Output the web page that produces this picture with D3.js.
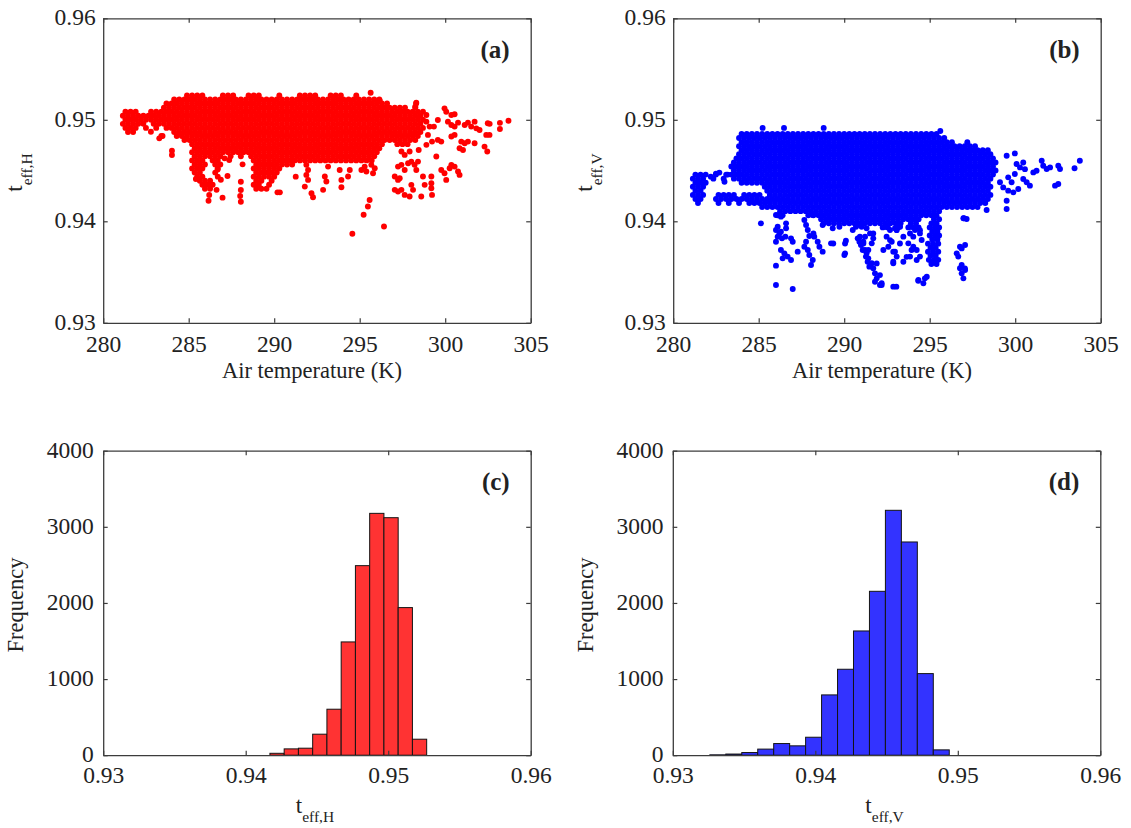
<!DOCTYPE html>
<html><head><meta charset="utf-8">
<script src="https://cdn.jsdelivr.net/npm/d3@7"></script>
<style>body{margin:0;background:#fff}</style>
</head><body>
<svg id="chart" width="1131" height="828"></svg>
<script>
// ---------- tick labels ----------
const tempTicks = [280, 285, 290, 295, 300, 305];
const teffTicks = [0.93, 0.94, 0.95, 0.96];
const freqTicks = [0, 1000, 2000, 3000, 4000];

// ---------- histogram data ----------
const binEdgesH = [0.9417, 0.9427, 0.9437, 0.9447, 0.9457, 0.9467, 0.9477, 0.9487, 0.9497, 0.9507, 0.9517, 0.9527];
const countsH = [25, 83, 92, 276, 604, 1488, 2490, 3177, 3120, 1939, 210];
const binEdgesV = [0.9326, 0.93372, 0.93484, 0.93596, 0.93708, 0.9382, 0.93932, 0.94044, 0.94156, 0.94268, 0.9438, 0.94492, 0.94604, 0.94716, 0.94828, 0.9494];
const countsV = [5, 15, 35, 80, 153, 123, 236, 792, 1129, 1632, 2153, 3217, 2801, 1072, 70];

// ---------- scatter (a): dense part read row by row: [t_eff,H, T1, T2, ...] ----------
const denseRowsH = [
[0.9524, 284.9,285.2,285.5,285.8,287.0,287.3,287.6,288.5,288.8,289.1,290.3,291.5,291.8,292.1,292.4,293.3,293.6,293.9,294.8],
[0.9520, 284.15,284.45,284.75,285.05,285.35,285.65,285.95,286.25,286.55,286.85,287.15,287.45,287.75,288.05,288.35,288.65,288.95,289.25,289.55,289.85,290.15,290.45,290.75,291.05,291.35,291.65,291.95,292.25,292.55,292.85,293.15,293.45,293.75,294.05,294.35,294.65,294.95,295.25,295.55,295.85,296.15],
[0.9516, 283.7,284.0,284.3,284.6,284.9,285.2,285.5,285.8,286.1,286.4,286.7,287.0,287.3,287.6,287.9,288.2,288.5,288.8,289.1,289.4,289.7,290.0,290.3,290.6,290.9,291.2,291.5,291.8,292.1,292.4,292.7,293.0,293.3,293.6,293.9,294.2,294.5,294.8,295.1,295.4,295.7,296.0,296.3,296.6,298.3],
[0.9512, 283.55,283.85,284.15,284.45,284.75,285.05,285.35,285.65,285.95,286.25,286.55,286.85,287.15,287.45,287.75,288.05,288.35,288.65,288.95,289.25,289.55,289.85,290.15,290.45,290.75,291.05,291.35,291.65,291.95,292.25,292.55,292.85,293.15,293.45,293.75,294.05,294.35,294.65,294.95,295.25,295.55,295.85,296.15,296.45,296.75,297.05,297.35,297.65,298.25],
[0.9508, 281.3,281.6,281.9,282.8,283.1,283.4,283.7,284.0,284.3,284.6,284.9,285.2,285.5,285.8,286.1,286.4,286.7,287.0,287.3,287.6,287.9,288.2,288.5,288.8,289.1,289.4,289.7,290.0,290.3,290.6,290.9,291.2,291.5,291.8,292.1,292.4,292.7,293.0,293.3,293.6,293.9,294.2,294.5,294.8,295.1,295.4,295.7,296.0,296.3,296.6,296.9,297.2,297.5,297.8,298.1,298.4],
[0.9504, 281.15,281.45,281.75,282.05,282.35,282.65,282.95,283.25,283.55,283.85,284.15,284.45,284.75,285.05,285.35,285.65,285.95,286.25,286.55,286.85,287.15,287.45,287.75,288.05,288.35,288.65,288.95,289.25,289.55,289.85,290.15,290.45,290.75,291.05,291.35,291.65,291.95,292.25,292.55,292.85,293.15,293.45,293.75,294.05,294.35,294.65,294.95,295.25,295.55,295.85,296.15,296.45,296.75,297.05,297.35,297.65,297.95,298.25,298.55],
[0.9500, 281.3,281.6,281.9,282.2,282.5,282.8,283.1,283.4,283.7,284.0,284.3,284.6,284.9,285.2,285.5,285.8,286.1,286.4,286.7,287.0,287.3,287.6,287.9,288.2,288.5,288.8,289.1,289.4,289.7,290.0,290.3,290.6,290.9,291.2,291.5,291.8,292.1,292.4,292.7,293.0,293.3,293.6,293.9,294.2,294.5,294.8,295.1,295.4,295.7,296.0,296.3,296.6,296.9,297.2,297.5,297.8,298.1,298.4,298.7],
[0.9496, 281.15,281.45,281.75,282.05,282.35,282.95,283.25,283.55,283.85,284.15,284.45,284.75,285.05,285.35,285.65,285.95,286.25,286.55,286.85,287.15,287.45,287.75,288.05,288.35,288.65,288.95,289.25,289.55,289.85,290.15,290.45,290.75,291.05,291.35,291.65,291.95,292.25,292.55,292.85,293.15,293.45,293.75,294.05,294.35,294.65,294.95,295.25,295.55,295.85,296.15,296.45,296.75,297.05,297.35,297.65,297.95,298.25,298.55],
[0.9492, 281.3,281.6,281.9,282.5,283.1,283.7,284.0,284.3,284.6,284.9,285.2,285.5,285.8,286.1,286.4,286.7,287.0,287.3,287.6,287.9,288.2,288.5,288.8,289.1,289.4,289.7,290.0,290.3,290.6,290.9,291.2,291.5,291.8,292.1,292.4,292.7,293.0,293.3,293.6,293.9,294.2,294.5,294.8,295.1,295.4,295.7,296.0,296.3,296.6,296.9,297.2,297.5,297.8,298.1,298.4,298.7],
[0.9488, 281.45,281.75,284.15,284.45,284.75,285.05,285.35,285.65,285.95,286.25,286.55,286.85,287.15,287.45,287.75,288.05,288.35,288.65,288.95,289.25,289.55,289.85,290.15,290.45,290.75,291.05,291.35,291.65,291.95,292.25,292.55,292.85,293.15,293.45,293.75,294.05,294.35,294.65,294.95,295.25,295.55,295.85,296.15,296.45,296.75,297.05,297.35,297.65,297.95,298.25,298.55],
[0.9484, 283.4,284.3,284.6,284.9,285.2,285.5,285.8,286.1,286.4,286.7,287.0,287.3,287.6,287.9,288.2,288.5,288.8,289.1,289.4,289.7,290.0,290.3,290.6,290.9,291.2,291.5,291.8,292.1,292.4,292.7,293.0,293.3,293.6,293.9,294.2,294.5,294.8,295.1,295.4,295.7,296.0,296.3,296.6,296.9,297.2,297.5,297.8,298.1,298.4],
[0.9480, 284.75,285.05,285.35,285.65,285.95,286.25,286.55,286.85,287.15,287.45,287.75,288.05,288.35,288.65,288.95,289.25,289.55,289.85,290.15,290.45,290.75,291.05,291.35,291.65,291.95,292.25,292.55,292.85,293.15,293.45,293.75,294.05,294.35,294.65,294.95,295.25,295.55,295.85,296.15,296.45,296.75,297.05,297.35,297.65,297.95,298.25],
[0.9476, 285.2,285.5,285.8,286.1,286.4,286.7,287.0,287.3,287.6,287.9,288.2,288.5,288.8,289.1,289.4,289.7,290.0,290.3,290.6,290.9,291.2,291.5,291.8,292.1,292.4,292.7,293.0,293.3,293.6,293.9,294.2,294.5,294.8,295.1,295.4,295.7,296.0,296.3,297.2,297.5,297.8],
[0.9472, 285.35,285.65,285.95,286.25,286.55,286.85,287.15,287.45,287.75,288.05,288.35,288.65,288.95,289.25,289.55,289.85,290.15,290.45,290.75,291.05,291.35,291.65,291.95,292.25,292.55,292.85,293.15,293.45,293.75,294.05,294.35,294.65,294.95,295.25,295.55,295.85,296.15],
[0.9468, 285.2,285.5,285.8,286.1,286.4,286.7,287.0,287.3,287.6,287.9,288.2,288.5,288.8,289.1,289.4,289.7,290.0,290.3,290.6,290.9,291.2,291.5,291.8,292.1,292.4,292.7,293.0,293.3,293.6,293.9,294.2,294.5,294.8,295.1,295.4,295.7,296.0],
[0.9464, 285.35,285.65,285.95,286.25,286.55,286.85,287.45,288.05,288.65,288.95,289.25,289.55,289.85,290.15,290.45,290.75,291.05,291.35,291.65,291.95,292.25,292.55,292.85,293.15,293.45,293.75,294.05,294.35,294.65,294.95,295.25,295.55,295.85],
[0.9460, 285.2,285.5,285.8,286.4,286.7,288.8,289.1,289.4,289.7,290.0,290.3,290.6,290.9,291.2,291.5,291.8,292.1,292.4,292.7,293.0,293.3,293.6,293.9,294.2,294.5,294.8,295.1,295.4,295.7],
[0.9456, 285.35,285.65,285.95,286.55,286.85,288.95,289.25,289.55,289.85,290.15,290.45,290.75,291.05],
[0.9452, 285.2,285.5,285.8,286.7,288.8,289.1,289.4,289.7,290.0,290.3],
[0.9448, 285.35,285.65,286.55,288.95,289.25,289.55,289.85,290.15],
[0.9444, 285.5,285.8,286.7,288.8,289.1,289.4,289.7,290.0],
[0.9440, 285.65,285.95,286.25,288.95,289.25,289.85],
[0.9436, 285.8,286.1,286.4,288.8,289.1,289.7],
[0.9432, 285.95,286.25,288.95,289.25,289.55]
];
// scatter (a): scattered points [T, t_eff,H]
const sparsePointsH = [
[295.64,0.95267],[296.17,0.95188],[298.31,0.95168],[298.25,0.95129],[298.7,0.9508],[298.9,0.95048],[298.9,0.94982],[299.09,0.94933],[298.99,0.94851],[299.23,0.94785],
[299.57,0.94998],[299.34,0.94933],[299.96,0.95113],[300.06,0.9508],[300.36,0.95048],[300.55,0.95054],[300.16,0.94982],[300.36,0.94949],[300.55,0.94933],[300.75,0.94972],
[301.14,0.94949],[301.33,0.94972],[301.52,0.94933],[301.72,0.94982],[301.82,0.94916],[302.01,0.949],[302.49,0.94966],[302.59,0.94851],[302.4,0.94851],[299.57,0.94802],
[299.77,0.94785],[300.36,0.94835],[300.55,0.94851],[300.94,0.94785],[301.14,0.94769],[301.33,0.94785],[301.72,0.94769],[300.84,0.9472],[301.04,0.94703],[302.3,0.94736],
[302.46,0.94687],[297.44,0.94687],[297.63,0.94654],[297.92,0.94687],[298.45,0.94703],[298.9,0.94753],[297.24,0.94539],[297.44,0.94556],[297.63,0.94506],[297.83,0.94572],
[298.02,0.94588],[298.21,0.94556],[298.31,0.94506],[298.41,0.94588],[297.05,0.94441],[297.24,0.94408],[297.34,0.94424],[297.05,0.9431],[297.24,0.94293],[297.44,0.9431],
[297.63,0.9426],[297.92,0.94244],[298.12,0.9431],[298.02,0.94359],[298.6,0.94244],[298.8,0.94359],[298.7,0.94441],[299.19,0.94441],[299.19,0.94375],[299.19,0.94326],
[299.23,0.9426],[299.77,0.94506],[299.96,0.94474],[300.06,0.94408],[300.26,0.94523],[300.36,0.94556],[300.55,0.94539],[300.75,0.9449],[300.84,0.94457],[299.48,0.94638],
[295.58,0.9421],[295.48,0.94146],[295.23,0.94064],[296.42,0.93949],[294.57,0.93877],[291.88,0.94556],[291.98,0.94506],[291.88,0.94457],[291.98,0.94408],[291.79,0.94342],
[292.18,0.94277],[292.27,0.94237],[292.96,0.94441],[293.05,0.94392],[292.86,0.9431],[293.15,0.94539],[293.83,0.94506],[293.93,0.94408],[293.93,0.94336],[294.32,0.94441],
[294.42,0.94506],[295.1,0.94506],[295.29,0.94539],[295.68,0.94556],[295.88,0.94523],[295.39,0.9449],[295.78,0.94474],
[283.28,0.94817],[283.47,0.9484],[284.84,0.94817],[284.02,0.94696],[284.02,0.94653],[285.42,0.94417],[286.2,0.94259],[286.16,0.94203],[286.98,0.94233],[287.27,0.94446],
[287.37,0.94604],[288.15,0.94561],[288.05,0.9439],[288.05,0.94308],[288.01,0.94249],[288.05,0.94193],[290.19,0.94285],[290.33,0.94285],[291.26,0.9444],[282.79,0.94883],
[286.63,0.9431],[286.88,0.9441],[286.69,0.9451],[287.1,0.9462],[303.7,0.9499],[303.2,0.9497],[303.2,0.9491],[302.6,0.9496]
];

// ---------- scatter (b): dense part read row by row: [t_eff,V, T1, T2, ...] ----------
const denseRowsV = [
[0.9486, 284.0,284.3,284.6,284.9,285.2,285.5,285.8,286.1,286.4,286.7,287.0,287.3,287.6,287.9,288.2,288.5,288.8,289.1,289.4,289.7,290.0,290.3,290.6,290.9,291.2,291.5,291.8,292.1,292.4,292.7,293.0,293.3,293.6,293.9,294.2,294.5,294.8,295.1,295.4],
[0.9482, 283.85,284.15,284.45,284.75,285.05,285.35,285.65,285.95,286.25,286.55,286.85,287.15,287.45,287.75,288.05,288.35,288.65,288.95,289.25,289.55,289.85,290.15,290.45,290.75,291.05,291.35,291.65,291.95,292.25,292.55,292.85,293.15,293.45,293.75,294.05,294.35,294.65,294.95,295.25,295.55,295.85],
[0.9478, 284.0,284.3,284.6,284.9,285.2,285.5,285.8,286.1,286.4,286.7,287.0,287.3,287.6,287.9,288.2,288.5,288.8,289.1,289.4,289.7,290.0,290.3,290.6,290.9,291.2,291.5,291.8,292.1,292.4,292.7,293.0,293.3,293.6,293.9,294.2,294.5,294.8,295.1,295.4,295.7,296.0,296.3,297.2],
[0.9474, 283.85,284.15,284.45,284.75,285.05,285.35,285.65,285.95,286.25,286.55,286.85,287.15,287.45,287.75,288.05,288.35,288.65,288.95,289.25,289.55,289.85,290.15,290.45,290.75,291.05,291.35,291.65,291.95,292.25,292.55,292.85,293.15,293.45,293.75,294.05,294.35,294.65,294.95,295.25,295.55,295.85,296.15,296.45,296.75,297.05,297.35,297.65],
[0.9470, 284.0,284.3,284.6,284.9,285.2,285.5,285.8,286.1,286.4,286.7,287.0,287.3,287.6,287.9,288.2,288.5,288.8,289.1,289.4,289.7,290.0,290.3,290.6,290.9,291.2,291.5,291.8,292.1,292.4,292.7,293.0,293.3,293.6,293.9,294.2,294.5,294.8,295.1,295.4,295.7,296.0,296.3,296.6,296.9,297.2,297.5,297.8,298.1,298.4],
[0.9466, 283.85,284.15,284.45,284.75,285.05,285.35,285.65,285.95,286.25,286.55,286.85,287.15,287.45,287.75,288.05,288.35,288.65,288.95,289.25,289.55,289.85,290.15,290.45,290.75,291.05,291.35,291.65,291.95,292.25,292.55,292.85,293.15,293.45,293.75,294.05,294.35,294.65,294.95,295.25,295.55,295.85,296.15,296.45,296.75,297.05,297.35,297.65,297.95,298.25,298.55],
[0.9462, 283.7,284.0,284.3,284.6,284.9,285.2,285.5,285.8,286.1,286.4,286.7,287.0,287.3,287.6,287.9,288.2,288.5,288.8,289.1,289.4,289.7,290.0,290.3,290.6,290.9,291.2,291.5,291.8,292.1,292.4,292.7,293.0,293.3,293.6,293.9,294.2,294.5,294.8,295.1,295.4,295.7,296.0,296.3,296.6,296.9,297.2,297.5,297.8,298.1,298.4,298.7],
[0.9458, 283.55,283.85,284.15,284.45,284.75,285.05,285.35,285.65,285.95,286.25,286.55,286.85,287.15,287.45,287.75,288.05,288.35,288.65,288.95,289.25,289.55,289.85,290.15,290.45,290.75,291.05,291.35,291.65,291.95,292.25,292.55,292.85,293.15,293.45,293.75,294.05,294.35,294.65,294.95,295.25,295.55,295.85,296.15,296.45,296.75,297.05,297.35,297.65,297.95,298.25,298.55,298.85],
[0.9454, 283.4,283.7,284.0,284.3,284.6,284.9,285.2,285.5,285.8,286.1,286.4,286.7,287.0,287.3,287.6,287.9,288.2,288.5,288.8,289.1,289.4,289.7,290.0,290.3,290.6,290.9,291.2,291.5,291.8,292.1,292.4,292.7,293.0,293.3,293.6,293.9,294.2,294.5,294.8,295.1,295.4,295.7,296.0,296.3,296.6,296.9,297.2,297.5,297.8,298.1,298.4,298.7],
[0.9450, 283.55,283.85,284.15,284.45,284.75,285.05,285.35,285.65,285.95,286.25,286.55,286.85,287.15,287.45,287.75,288.05,288.35,288.65,288.95,289.25,289.55,289.85,290.15,290.45,290.75,291.05,291.35,291.65,291.95,292.25,292.55,292.85,293.15,293.45,293.75,294.05,294.35,294.65,294.95,295.25,295.55,295.85,296.15,296.45,296.75,297.05,297.35,297.65,297.95,298.25,298.55,298.85],
[0.9446, 281.3,281.6,281.9,282.5,283.1,283.4,283.7,284.0,284.3,284.6,284.9,285.2,285.5,285.8,286.1,286.4,286.7,287.0,287.3,287.6,287.9,288.2,288.5,288.8,289.1,289.4,289.7,290.0,290.3,290.6,290.9,291.2,291.5,291.8,292.1,292.4,292.7,293.0,293.3,293.6,293.9,294.2,294.5,294.8,295.1,295.4,295.7,296.0,296.3,296.6,296.9,297.2,297.5,297.8,298.1,298.4,298.7],
[0.9442, 281.15,281.45,281.75,282.35,282.95,283.55,283.85,284.15,284.45,284.75,285.05,285.35,285.65,285.95,286.25,286.55,286.85,287.15,287.45,287.75,288.05,288.35,288.65,288.95,289.25,289.55,289.85,290.15,290.45,290.75,291.05,291.35,291.65,291.95,292.25,292.55,292.85,293.15,293.45,293.75,294.05,294.35,294.65,294.95,295.25,295.55,295.85,296.15,296.45,296.75,297.05,297.35,297.65,297.95,298.25,298.55],
[0.9438, 281.3,281.6,281.9,284.0,284.3,284.6,284.9,285.2,285.5,285.8,286.1,286.4,286.7,287.0,287.3,287.6,287.9,288.2,288.5,288.8,289.1,289.4,289.7,290.0,290.3,290.6,290.9,291.2,291.5,291.8,292.1,292.4,292.7,293.0,293.3,293.6,293.9,294.2,294.5,294.8,295.1,295.4,295.7,296.0,296.3,296.6,296.9,297.2,297.5,297.8,298.1,298.4],
[0.9434, 281.15,281.45,281.75,285.35,285.65,285.95,286.25,286.55,286.85,287.15,287.45,287.75,288.05,288.35,288.65,288.95,289.25,289.55,289.85,290.15,290.45,290.75,291.05,291.35,291.65,291.95,292.25,292.55,292.85,293.15,293.45,293.75,294.05,294.35,294.65,294.95,295.25,295.55,295.85,296.15,296.45,296.75,297.05,297.35,297.65,297.95,298.25,298.55],
[0.9430, 281.3,281.6,285.5,285.8,286.1,286.4,286.7,287.0,287.3,287.6,287.9,288.2,288.5,288.8,289.1,289.4,289.7,290.0,290.3,290.6,290.9,291.2,291.5,291.8,292.1,292.4,292.7,293.0,293.3,293.6,293.9,294.2,294.5,294.8,295.1,295.4,295.7,296.0,296.3,296.6,296.9,297.2,297.5,297.8,298.1,298.4],
[0.9426, 281.15,281.45,281.75,282.65,282.95,283.25,283.55,284.15,284.45,284.75,285.05,285.65,285.95,286.25,286.55,286.85,287.15,287.45,287.75,288.05,288.35,288.65,288.95,289.25,289.55,289.85,290.15,290.45,290.75,291.05,291.35,291.65,291.95,292.25,292.55,292.85,293.15,293.45,293.75,294.05,294.35,294.65,294.95,295.25,295.55,295.85,296.15,296.45,296.75,297.05,297.35,297.65,297.95,298.25,298.55],
[0.9422, 281.3,281.6,282.5,282.8,283.1,283.4,283.7,284.0,284.3,284.6,284.9,285.2,285.5,285.8,286.1,286.4,286.7,287.0,287.3,287.6,287.9,288.2,288.5,288.8,289.1,289.4,289.7,290.0,290.3,290.6,290.9,291.2,291.5,291.8,292.1,292.4,292.7,293.0,293.3,293.6,293.9,294.2,294.5,294.8,295.1,295.4,295.7,296.0,296.3,296.6,296.9,297.2,297.5,297.8,298.1,298.4],
[0.9418, 281.45,282.65,283.25,283.85,284.45,284.75,285.05,285.35,285.65,285.95,286.25,286.55,286.85,287.15,287.45,287.75,288.05,288.35,288.65,288.95,289.25,289.55,289.85,290.15,290.45,290.75,291.05,291.35,291.65,291.95,292.25,292.55,292.85,293.15,293.45,293.75,294.05,294.35,294.65,294.95,295.25,295.55,295.85,296.15,296.45,296.75,297.05,297.35,297.65,297.95,298.25],
[0.9414, 285.2,285.5,285.8,286.1,286.4,286.7,287.0,287.3,287.6,287.9,288.2,288.5,288.8,289.1,289.4,289.7,290.0,290.3,290.6,290.9,291.2,291.5,291.8,292.1,292.4,292.7,293.0,293.3,293.6,293.9,294.2,294.5,294.8,295.1,295.4,295.7,296.0,296.3,296.6,296.9,297.2,297.5,297.8],
[0.9410, 286.25,286.55,286.85,287.15,287.45,287.75,288.05,288.35,288.65,288.95,289.25,289.55,289.85,290.15,290.45,290.75,291.05,291.35,291.65,291.95,292.25,292.55,292.85,293.15,293.45,293.75,294.05,294.35,294.65,294.95,295.25,295.55],
[0.9406, 286.1,286.4,287.9,288.2,288.5,288.8,289.1,289.4,289.7,290.0,290.3,290.6,290.9,291.2,291.5,291.8,292.1,292.4,292.7,293.0,293.3,293.6,293.9,294.2,294.5,294.8,295.1,295.4],
[0.9402, 288.65,288.95,289.25,289.55,289.85,290.15,290.45,290.75,291.05,291.35,291.65,291.95,292.25,292.55,292.85,293.15,293.45,293.75,294.05,294.35,295.25,295.55],
[0.9398, 288.8,289.1,289.4,289.7,290.0,290.3,290.6,290.9,291.2,291.5,291.8,292.1,292.4,292.7,293.0,293.3,293.9,294.2,295.1,295.4],
[0.9394, 292.25,292.55,293.15,293.75,294.05,294.35]
];
// scatter (b): scattered points [T, t_eff,V]
const sparsePointsV = [
[285.23,0.9492],[286.48,0.9492],[288.8,0.9492],[295.62,0.9489],[282.5,0.9447],[282.7,0.9448],[283.19,0.9446],[283.0,0.9439],[282.2,0.9444],
[299.5,0.94646],[299.98,0.94669],[300.08,0.94564],[300.28,0.94531],[300.47,0.9458],[300.57,0.94514],[299.98,0.94466],[299.59,0.94433],[299.79,0.94384],[299.11,0.94384],
[299.3,0.94334],[299.59,0.94302],[299.89,0.94285],[300.18,0.94318],[300.47,0.94417],[300.67,0.94384],[300.86,0.94351],[301.06,0.94482],[301.25,0.94498],[301.55,0.94597],
[301.64,0.94548],[301.84,0.94515],[302.04,0.94531],[302.52,0.94548],[302.62,0.94515],[302.33,0.94351],[302.52,0.94367],[299.5,0.94203],[299.5,0.94121],[298.33,0.94111],
[297.16,0.94022],[303.78,0.94597],[303.47,0.94522],
[285.13,0.9398],[286.11,0.93947],[286.01,0.93914],[286.3,0.93898],[286.21,0.93881],[286.11,0.93849],[286.01,0.93799],[286.36,0.93832],[286.6,0.9398],[286.6,0.93931],
[286.56,0.93849],[286.89,0.93832],[286.99,0.93799],[286.3,0.93717],[286.5,0.93684],[286.4,0.93635],[286.69,0.93652],[286.89,0.93619],[286.01,0.93563],[286.01,0.93372],
[286.99,0.93333],[287.28,0.93701],[287.67,0.94013],[287.77,0.93964],[287.87,0.93914],[287.96,0.93855],[287.77,0.93799],[287.67,0.9375],[287.87,0.93717],[287.96,0.93668],
[288.16,0.93619],[288.06,0.93569],[288.25,0.93849],[288.45,0.93799],[288.55,0.9375],[288.74,0.93701],[289.23,0.93783],[290.1,0.93809],[290.01,0.93668],[290.79,0.93832],
[290.89,0.93799],[290.98,0.93766],[291.08,0.93717],[291.27,0.93652],[291.37,0.93602],[291.47,0.93553],[290.5,0.93914],[290.69,0.93947],[286.01,0.94062],[286.3,0.94046],
[288.16,0.94062],[288.74,0.93964],[289.33,0.93931],[289.72,0.93947],
[291.02,0.93947],[290.92,0.93964],[291.31,0.93931],[291.51,0.93881],[291.7,0.93832],[291.12,0.93799],[291.61,0.93783],[291.22,0.93849],[291.22,0.93717],[291.31,0.93684],
[291.41,0.93635],[291.61,0.93586],[291.7,0.93537],[291.8,0.93487],[291.9,0.93438],[291.8,0.93405],[292.09,0.93372],[292.19,0.93389],[292.39,0.93947],[292.68,0.93914],
[292.97,0.93931],[292.48,0.93849],[292.78,0.93799],[292.58,0.9375],[292.87,0.93701],[293.07,0.93652],[292.87,0.93586],[293.46,0.93602],[293.85,0.93652],[293.94,0.93717],
[293.75,0.93783],[294.04,0.93849],[294.14,0.93914],[293.46,0.93849],[293.27,0.93947],[293.85,0.93947],[294.43,0.93881],[294.53,0.93816],[294.24,0.93717],[294.43,0.93652],
[293.05,0.93356],[294.34,0.93422],[294.63,0.93389],[294.83,0.93454],
[295.0,0.9394],[295.3,0.9394],[295.55,0.9394],[295.15,0.939],[295.45,0.939],[295.0,0.9386],[295.3,0.9386],[295.55,0.9386],[295.15,0.9382],[295.45,0.9382],
[294.9,0.9378],[295.2,0.9378],[295.5,0.9378],[295.05,0.9374],[295.35,0.9374],[294.9,0.937],[295.2,0.937],[295.5,0.937],[295.05,0.9366],[295.35,0.9366],
[294.95,0.9362],[295.25,0.9362],[295.5,0.9362],[295.1,0.9358],[295.4,0.9358],
[296.58,0.93684],[296.67,0.93652],[296.77,0.9375],[297.07,0.93766],[296.87,0.93569],[296.77,0.93537],[297.07,0.9352],[296.87,0.93487],[296.97,0.93438],[297.0,0.9403],
[292.48,0.93946],[293.07,0.93913],[292.68,0.93815],[293.26,0.93782],[292.97,0.937],[293.85,0.9388],[294.04,0.93749],[293.65,0.9365],[294.24,0.93618],[294.43,0.93913],
[292.87,0.93602],[292.29,0.93717],[291.7,0.9388],[290.92,0.93848],[291.12,0.93782],[291.41,0.93717],[291.9,0.93585],[292.09,0.9347],[292.19,0.93372],[292.87,0.93356],
[294.33,0.93415],[294.72,0.93438],[295.11,0.93602],[296.87,0.93733],[297.06,0.93536],[296.97,0.9403],[289.36,0.93782],[290.05,0.93782],[290.05,0.93684],[288.2,0.9388]
];

// ---------- layout / style ----------
const FONT = "'Liberation Serif','Times New Roman',serif";
const INK = "#222222";
const AXIS_INK = "#3c3c3c";
const W = 427.5, H = 304.5;
const DOT_R = 2.95;
const svg = d3.select("#chart");

function rowsToPoints(rows) {
  const pts = [];
  rows.forEach(r => { r.slice(1).forEach(t => pts.push([t, r[0]])); });
  return pts;
}

function makePanel(left, top, xd, yd) {
  const g = svg.append("g").attr("transform", `translate(${left},${top})`);
  const x = d3.scaleLinear().domain(xd).range([0, W]);
  const y = d3.scaleLinear().domain(yd).range([H, 0]);
  return {g, x, y, left, top};
}

function drawFrame(p, xt, yt, fx, fy, xLabBase, yLabGap) {
  const {g, x, y} = p;
  const tk = -4.5;
  g.append("g").attr("transform", `translate(0,${H})`)
    .call(d3.axisBottom(x).tickValues(xt).tickSizeInner(tk).tickSizeOuter(0).tickFormat(fx))
    .call(s => s.selectAll("text").attr("y", xLabBase).attr("dy", 0));
  g.append("g")
    .call(d3.axisTop(x).tickValues(xt).tickSizeInner(tk).tickSizeOuter(0).tickFormat(""));
  g.append("g")
    .call(d3.axisLeft(y).tickValues(yt).tickSizeInner(tk).tickSizeOuter(0).tickFormat(fy))
    .call(s => s.selectAll("text").attr("x", -yLabGap).attr("dy", "0.27em"));
  g.append("g").attr("transform", `translate(${W},0)`)
    .call(d3.axisRight(y).tickValues(yt).tickSizeInner(tk).tickSizeOuter(0).tickFormat(""));
  g.selectAll(".domain").attr("stroke", AXIS_INK).attr("stroke-width", 1.3);
  g.selectAll(".tick line").attr("stroke", AXIS_INK).attr("stroke-width", 1.2);
  g.selectAll(".tick text").attr("font-family", FONT).attr("font-size", 23.5).attr("fill", INK);
}

function panelTag(p, s) {
  p.g.append("text").attr("x", W - 21).attr("y", 39.5).attr("text-anchor", "end")
    .attr("font-family", FONT).attr("font-weight", "bold").attr("font-size", 25).attr("fill", INK).text(s);
}

function subLabel(x, y, rotate, sub) {
  const t = svg.append("text")
    .attr("transform", rotate ? `translate(${x},${y}) rotate(-90)` : `translate(${x},${y})`)
    .attr("text-anchor", "middle").attr("font-family", FONT).attr("fill", INK);
  t.append("tspan").attr("font-size", 23).text("t");
  t.append("tspan").attr("font-size", 15.5).attr("dy", 9.5).text(sub);
}

function plainLabel(x, y, rotate, s) {
  svg.append("text")
    .attr("transform", rotate ? `translate(${x},${y}) rotate(-90)` : `translate(${x},${y})`)
    .attr("text-anchor", "middle").attr("font-family", FONT).attr("font-size", 22.5).attr("fill", INK).text(s);
}

function scatterPanel(left, top, rows, extra, color, tag, sub) {
  const p = makePanel(left, top, [280, 305], [0.93, 0.96]);
  const pts = rowsToPoints(rows).concat(extra);
  p.g.append("g").selectAll("circle").data(pts).join("circle")
    .attr("cx", d => p.x(d[0])).attr("cy", d => p.y(d[1])).attr("r", DOT_R).attr("fill", color);
  drawFrame(p, tempTicks, teffTicks, d3.format("d"), d3.format(".2f"), 29.3, 7.5);
  panelTag(p, tag);
  plainLabel(left + W / 2 - 5, top + H + 55.5, false, "Air temperature (K)");
  subLabel(left - 81, top + H / 2 + 2, true, sub);
}

function histPanel(left, top, edges, counts, color, tag, sub) {
  const p = makePanel(left, top, [0.93, 0.96], [0, 4000]);
  const bins = counts.map((c, i) => ({x0: edges[i], x1: edges[i + 1], c}));
  p.g.append("g").selectAll("rect").data(bins).join("rect")
    .attr("x", d => p.x(d.x0)).attr("width", d => p.x(d.x1) - p.x(d.x0))
    .attr("y", d => p.y(d.c)).attr("height", d => p.y(0) - p.y(d.c))
    .attr("fill", color).attr("stroke", "#141414").attr("stroke-width", 1);
  drawFrame(p, teffTicks, freqTicks, d3.format(".2f"), d3.format("d"), 27.8, 9.4);
  panelTag(p, tag);
  plainLabel(left - 80, top + H / 2 + 2, true, "Frequency");
  subLabel(left + W / 2 - 2, top + H + 57.7, false, sub);
}

scatterPanel(103.2, 18.3, denseRowsH, sparsePointsH, "#ff0000", "(a)", "eff,H");
scatterPanel(673.2, 18.3, denseRowsV, sparsePointsV, "#0000ff", "(b)", "eff,V");
histPanel(103.2, 450.7, binEdgesH, countsH, "#ff3333", "(c)", "eff,H");
histPanel(672.8, 450.7, binEdgesV, countsV, "#3333ff", "(d)", "eff,V");
</script>
</body></html>
